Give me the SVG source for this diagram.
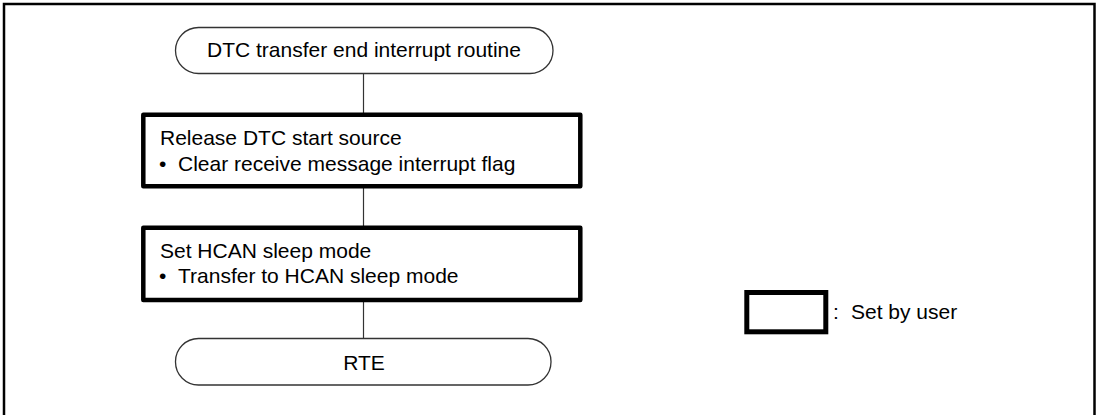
<svg xmlns="http://www.w3.org/2000/svg" width="1099" height="415" viewBox="0 0 1099 415">
<style>
text{font-family:"Liberation Sans",Arial,sans-serif;font-size:21px;fill:#000}
.term{fill:#fff;stroke:#333;stroke-width:1.3}
.proc{fill:#fff;stroke:#000;stroke-width:4.5;stroke-linejoin:round}
.conn{stroke:#333;stroke-width:1.2;fill:none}
.mid{text-anchor:middle}
</style>
<rect x="0" y="0" width="1099" height="415" fill="#fff"/>
<rect x="4" y="4" width="1090.5" height="420" fill="none" stroke="#000" stroke-width="2.5"/>
<g id="connectors">
<line class="conn" x1="363.5" y1="73.5" x2="363.5" y2="113"/>
<line class="conn" x1="363.5" y1="187.5" x2="363.5" y2="226"/>
<line class="conn" x1="363.5" y1="302" x2="363.5" y2="338.5"/>
</g>
<g id="start">
<rect class="term" x="175.5" y="27.5" width="377.5" height="46" rx="23" ry="23"/>
<text class="mid" x="364" y="57">DTC transfer end interrupt routine</text>
</g>
<g id="release">
<rect class="proc" x="143.3" y="114.8" width="437" height="71.5"/>
<text x="160" y="145">Release DTC start source</text>
<text x="159" y="171">•</text>
<text x="178" y="171">Clear receive message interrupt flag</text>
</g>
<g id="sleep">
<rect class="proc" x="143.3" y="227.8" width="437" height="72.2"/>
<text x="160" y="258">Set HCAN sleep mode</text>
<text x="159" y="283">•</text>
<text x="178" y="283">Transfer to HCAN sleep mode</text>
</g>
<g id="rte">
<rect class="term" x="175.5" y="338.5" width="375.5" height="46.5" rx="23" ry="23"/>
<text class="mid" x="364" y="370">RTE</text>
</g>
<g id="legend">
<rect x="746.8" y="292.5" width="79" height="39.3" fill="#fff" stroke="#000" stroke-width="5"/>
<text x="833" y="319">:</text>
<text x="851" y="319">Set by user</text>
</g>
</svg>
